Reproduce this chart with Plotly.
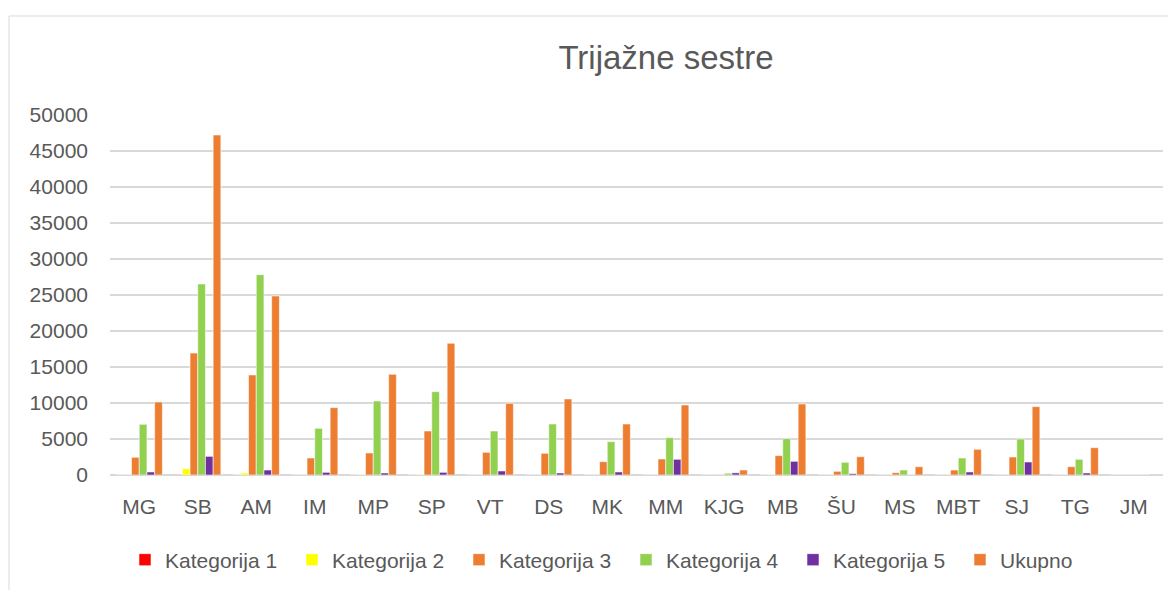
import plotly.graph_objects as go

categories = ["MG", "SB", "AM", "IM", "MP", "SP", "VT", "DS", "MK", "MM",
              "KJG", "MB", "ŠU", "MS", "MBT", "SJ", "TG", "JM"]
kategorija_1 = [0, 50, 0, 0, 0, 0, 0, 0, 0, 0, 0, 0, 0, 0, 0, 0, 0, 0]
kategorija_2 = [30, 880, 280, 0, 60, 50, 0, 0, 0, 0, 0, 50, 0, 0, 0, 0, 0, 0]
kategorija_3 = [2460, 16940, 13890, 2360, 3060, 6110, 3150, 3010, 1850, 2220,
                70, 2690, 510, 320, 690, 2500, 1150, 0]
kategorija_4 = [7040, 26530, 27820, 6480, 10280, 11570, 6110, 7080, 4630, 5190,
                250, 5050, 1760, 690, 2360, 5000, 2180, 0]
kategorija_5 = [420, 2590, 690, 370, 280, 370, 560, 280, 420, 2180,
                300, 1900, 180, 0, 420, 1810, 280, 0]
ukupno = [10140, 47220, 24860, 9350, 13990, 18290, 9950, 10560, 7080, 9720,
          690, 9860, 2540, 1150, 3570, 9490, 3790, 100]

series = [
    ("Kategorija 1", kategorija_1, "#FF0000"),
    ("Kategorija 2", kategorija_2, "#FFFF00"),
    ("Kategorija 3", kategorija_3, "#ED7D31"),
    ("Kategorija 4", kategorija_4, "#92D050"),
    ("Kategorija 5", kategorija_5, "#7030A0"),
    ("Ukupno", ukupno, "#ED7D31"),
]

FONT = "Liberation Sans, Arial, sans-serif"
TXT = "#595959"

fig = go.Figure()
for name, vals, col in series:
    fig.add_trace(go.Bar(
        x=categories, y=vals, name=name,
        marker=dict(color=col, line=dict(color="rgba(255,255,255,0.55)", width=1)),
    ))

# page body has an 8px margin; figure coordinates = screen - 8
OFF = 8
W, H = 1176 - OFF, 590 - OFF
L = 110 - OFF
T = 115 - OFF
R = W - (1163 - OFF)
B = H - (475 - OFF)
PW, PH = W - L - R, H - T - B

fig.update_layout(
    width=W, height=H,
    margin=dict(l=L, r=R, t=T, b=B, pad=0, autoexpand=False),
    paper_bgcolor="white", plot_bgcolor="white",
    barmode="group", bargap=0.21, bargroupgap=0,
    font=dict(family=FONT, color=TXT, size=21),
    title=dict(text="Trijažne sestre", x=(666 - OFF) / W, xanchor="center",
               y=1 - (57 - OFF) / H, yanchor="middle", xref="container", yref="container",
               font=dict(family=FONT, size=33, color=TXT)),
    showlegend=True,
    legend=dict(orientation="h", x=(125 - 110) / PW, xanchor="left",
                y=(475 - 560) / PH, yanchor="middle",
                entrywidth=122, entrywidthmode="pixels",
                font=dict(family=FONT, size=21, color=TXT),
                bgcolor="rgba(0,0,0,0)", traceorder="normal"),
    xaxis=dict(showgrid=False, showline=False, ticks="", ticklabelstandoff=17,
               tickfont=dict(family=FONT, size=21, color=TXT)),
    yaxis=dict(range=[0, 50000], dtick=5000, showgrid=True, gridcolor="#D9D9D9",
               gridwidth=2, zeroline=True, zerolinecolor="#D9D9D9", zerolinewidth=2,
               showline=False, ticks="", ticklabelstandoff=21, tickformat="d",
               tickfont=dict(family=FONT, size=21, color=TXT)),
)

fig.add_shape(type="rect", xref="paper", yref="paper",
              x0=(9 - 110) / PW, x1=1.2,
              y0=-0.5, y1=(475 - 16) / PH,
              line=dict(color="#D9D9D9", width=1), fillcolor="rgba(0,0,0,0)",
              layer="below")

fig.write_html("out.html")
